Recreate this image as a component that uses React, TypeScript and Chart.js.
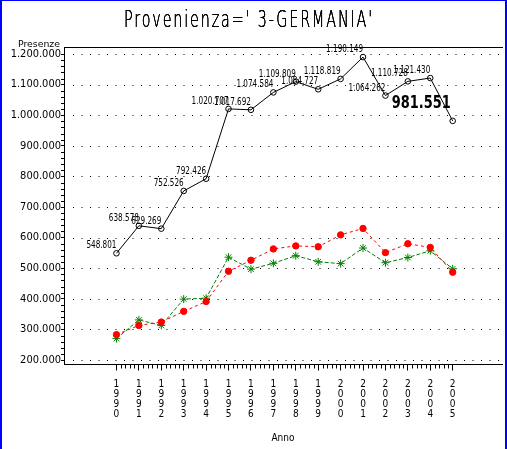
import { useEffect, useRef } from 'react';
import { Chart, registerables } from 'chart.js';

Chart.register(...registerables);

const years = [1990, 1991, 1992, 1993, 1994, 1995, 1996, 1997, 1998, 1999, 2000, 2001, 2002, 2003, 2004, 2005];
const totalPresenze = [548801, 638578, 629269, 752526, 792426, 1020707, 1017692, 1074584, 1109809, 1084727, 1118819, 1190149, 1064262, 1110728, 1121430, 981551];
const redSeries = [283000, 313000, 324000, 359000, 391000, 490000, 526000, 563000, 573000, 570000, 609000, 630000, 551000, 580000, 568000, 487000];
const greenSeries = [270000, 331000, 313000, 399000, 402000, 536000, 497000, 516000, 541000, 521000, 515000, 566000, 518000, 535000, 557000, 498000];
const yTicks = [200000, 300000, 400000, 500000, 600000, 700000, 800000, 900000, 1000000, 1100000, 1200000];
const titleText = "Provenienza=' 3-GERMANIA'";
const yTitle = 'Presenze';
const xTitle = 'Anno';

const FAMILY = "'Liberation Sans Narrow', 'DejaVu Sans Condensed', 'Liberation Sans', sans-serif";

const fmt = (v: number) => String(Math.round(v)).replace(/\B(?=(\d{3})+(?!\d))/g, '.');

const drawScaled = (ctx: any, text: string, x: number, y: number, sx: number, times = 1) => {
  ctx.save();
  ctx.translate(x, y);
  ctx.scale(sx, 1);
  for (let i = 0; i < times; i++) ctx.fillText(text, 0, 0);
  ctx.restore();
};

const decorPlugin = {
  id: 'decor',
  beforeDatasetsDraw(chart: any) {
    const { ctx, chartArea: a, scales } = chart;
    const y = scales.y;
    ctx.save();
    ctx.strokeStyle = '#000';
    ctx.lineWidth = 1;
    ctx.setLineDash([1, 7.5]);
    yTicks.forEach((v) => {
      const py = Math.round(y.getPixelForValue(v)) + 0.5;
      ctx.beginPath();
      ctx.moveTo(a.left + 9, py);
      ctx.lineTo(a.right, py);
      ctx.stroke();
    });
    ctx.setLineDash([]);
    ctx.beginPath();
    ctx.moveTo(a.left, Math.round(a.top) + 0.5);
    ctx.lineTo(a.right + 1, Math.round(a.top) + 0.5);
    ctx.stroke();
    ctx.restore();
  },
  afterDatasetsDraw(chart: any) {
    const { ctx } = chart;
    const meta = chart.getDatasetMeta(0);
    ctx.save();
    ctx.fillStyle = '#000';
    ctx.textAlign = 'right';
    ctx.textBaseline = 'alphabetic';
    ctx.font = `10px ${FAMILY}`;
    const sx = 30 / ctx.measureText('548.801').width;
    meta.data.forEach((pt: any, i: number) => {
      const last = i === meta.data.length - 1;
      const txt = fmt(totalPresenze[i]);
      if (last) {
        ctx.font = `bold 18px ${FAMILY}`;
        const bx = 59 / ctx.measureText(txt).width;
        drawScaled(ctx, txt, pt.x - 2, pt.y - 13, bx);
      } else {
        ctx.font = `10px ${FAMILY}`;
        drawScaled(ctx, txt, pt.x, pt.y - 5, sx);
      }
    });
    ctx.restore();
  },
  afterDraw(chart: any) {
    const { ctx, chartArea: a, scales } = chart;
    const x = scales.x;
    const y = scales.y;
    ctx.save();
    ctx.strokeStyle = '#000';
    ctx.lineWidth = 1;
    for (let v = 200000; v < 1200000; v += 20000) {
      if (v % 100000 === 0) continue;
      const py = Math.round(y.getPixelForValue(v)) + 0.5;
      ctx.beginPath();
      ctx.moveTo(a.left - 3, py);
      ctx.lineTo(a.left, py);
      ctx.stroke();
    }
    for (let k = 0; k < (years.length - 1) * 5; k++) {
      if (k % 5 === 0) continue;
      const v = years[0] + k / 5;
      const px = Math.round(x.getPixelForValue(v)) + 0.5;
      ctx.beginPath();
      ctx.moveTo(px, a.bottom);
      ctx.lineTo(px, a.bottom + 4);
      ctx.stroke();
    }
    // title
    ctx.fillStyle = '#000';
    ctx.textBaseline = 'alphabetic';
    ctx.textAlign = 'center';
    ctx.font = `200 23px 'DejaVu Sans', ${FAMILY}`;
    try {
      (ctx as any).letterSpacing = '3px';
    } catch (e) {}
    const tw = ctx.measureText(titleText).width;
    drawScaled(ctx, titleText, 249, 27, 250 / tw, 3);
    try {
      (ctx as any).letterSpacing = '0px';
    } catch (e) {}
    // y title
    ctx.font = `9px ${FAMILY}`;
    const yw = ctx.measureText(yTitle).width;
    drawScaled(ctx, yTitle, 39, 47, 42 / yw);
    // blue frame
    ctx.strokeStyle = '#0000ff';
    ctx.lineWidth = 2;
    ctx.beginPath();
    ctx.moveTo(1, 0);
    ctx.lineTo(1, 449);
    ctx.moveTo(506, 0);
    ctx.lineTo(506, 449);
    ctx.stroke();
    ctx.lineWidth = 1;
    ctx.beginPath();
    ctx.moveTo(0, 0.5);
    ctx.lineTo(507, 0.5);
    ctx.stroke();
    ctx.restore();
  },
};

export default function App() {
  const ref = useRef<HTMLCanvasElement | null>(null);
  useEffect(() => {
    if (!ref.current) return;
    const chart = new Chart(ref.current, {
      type: 'line',
      data: {
        labels: years,
        datasets: [
          {
            label: 'Presenze totali',
            data: years.map((yr, i) => ({ x: yr, y: totalPresenze[i] })),
            borderColor: '#000',
            borderWidth: 1,
            pointStyle: 'circle',
            pointRadius: 2.8,
            pointBorderWidth: 1,
            pointBorderColor: '#000',
            pointBackgroundColor: 'rgba(0,0,0,0)',
            tension: 0,
          },
          {
            label: 'Serie rossa',
            data: years.map((yr, i) => ({ x: yr, y: redSeries[i] })),
            borderColor: '#ff0000',
            borderWidth: 1,
            borderDash: [3, 3],
            pointStyle: 'circle',
            pointRadius: 3.2,
            pointBorderWidth: 1,
            pointBorderColor: '#ff0000',
            pointBackgroundColor: '#ff0000',
            tension: 0,
          },
          {
            label: 'Serie verde',
            data: years.map((yr, i) => ({ x: yr, y: greenSeries[i] })),
            borderColor: '#008000',
            borderWidth: 1,
            borderDash: [4, 2],
            pointStyle: 'star',
            pointRadius: 4,
            pointBorderWidth: 1,
            pointBorderColor: '#008000',
            pointBackgroundColor: '#008000',
            tension: 0,
          },
        ],
      },
      options: {
        responsive: false,
        animation: false,
        devicePixelRatio: 1,
        layout: { padding: { top: 47, right: 1, left: 0, bottom: 0 } },
        plugins: {
          legend: { display: false },
          tooltip: { enabled: false },
          title: { display: false },
        },
        scales: {
          x: {
            type: 'linear',
            min: 1987.66,
            max: 2007.2,
            afterBuildTicks: (s: any) => {
              s.ticks = years.map((v) => ({ value: v }));
            },
            afterFit: (s: any) => {
              s.height = 84.5;
            },
            ticks: {
              autoSkip: false,
              maxRotation: 0,
              minRotation: 0,
              padding: 9,
              color: '#000',
              font: { family: FAMILY, size: 10, lineHeight: 1 },
              callback: (v: any) => String(v).split(''),
            },
            grid: { drawOnChartArea: false, drawTicks: true, tickLength: 6, tickColor: '#000', tickWidth: 1 },
            border: { display: true, color: '#000', width: 1 },
            title: {
              display: true,
              text: xTitle,
              color: '#000',
              font: { family: FAMILY, size: 10, lineHeight: 1.2 },
              padding: { top: 0, bottom: 4.5 },
            },
          },
          y: {
            type: 'linear',
            min: 185300,
            max: 1223000,
            afterBuildTicks: (s: any) => {
              s.ticks = yTicks.map((v) => ({ value: v }));
            },
            afterFit: (s: any) => {
              s.width = 64;
            },
            ticks: {
              padding: 0,
              color: '#000',
              font: { family: FAMILY, size: 11 },
              callback: (v: any) => fmt(Number(v)),
            },
            grid: { drawOnChartArea: false, drawTicks: true, tickLength: 3, tickColor: '#000' },
            border: { display: true, color: '#000', width: 1 },
          },
        },
      } as any,
      plugins: [decorPlugin],
    });
    return () => chart.destroy();
  }, []);
  return (
    <div style={{ position: 'fixed', left: 0, top: 0, width: 507, height: 449, background: '#fff' }}>
      <canvas ref={ref} width={507} height={449} style={{ display: 'block', width: 507, height: 449 }} />
    </div>
  );
}
